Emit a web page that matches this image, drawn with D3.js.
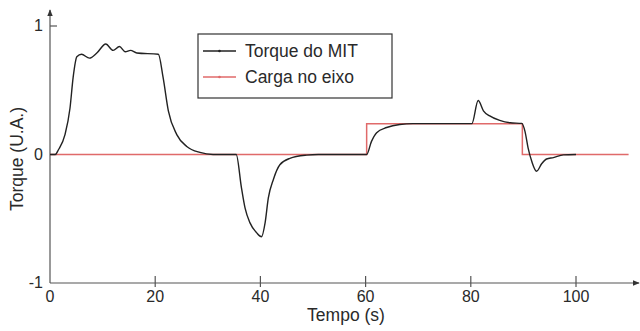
<!DOCTYPE html>
<html>
<head>
  <meta charset="utf-8">
  <style>
    body { margin: 0; background: #fff; }
    text { font-family: "Liberation Sans", Arial, sans-serif; fill: #2a2a2a; }
  </style>
</head>
<body>
  <script src="https://cdn.jsdelivr.net/npm/d3@7/dist/d3.min.js"></script>
  <script>
    // torque curve (tempo, torque)
    var torqueT = [0, 1, 1.6, 2.85, 3.8, 4.4, 5.1, 6.0, 7.5, 8.9, 10.6, 12.0, 13.2, 14.3, 15.3, 16.5, 20.6,
                   21.5, 22.5, 24.1, 26, 28.5, 31, 35.4, 36.4, 37.1, 38.0, 39.3, 40.2, 40.9, 41.5, 42.5,
                   43.7, 45.6, 48.8, 51, 60.2, 61.1, 62.1, 64, 66.5, 69, 80.2, 81.4, 82.4, 83.6, 85.5,
                   87.5, 89.7, 90.3, 90.9, 91.6, 92.5, 93.5, 94.4, 95.7, 97.6, 100];
    var torqueV = [0, 0, 0.037, 0.155, 0.36, 0.6, 0.76, 0.78, 0.75, 0.79, 0.86, 0.81, 0.84, 0.80, 0.81, 0.79, 0.78,
                   0.60, 0.34, 0.155, 0.063, 0.016, 0, 0, -0.26, -0.42, -0.53, -0.61, -0.64, -0.53, -0.34, -0.19,
                   -0.08, -0.03, -0.005, 0, 0, 0.10, 0.17, 0.21, 0.234, 0.24, 0.24, 0.42, 0.34, 0.30, 0.265,
                   0.247, 0.242, 0.18, 0.05, -0.055, -0.13, -0.07, -0.035, -0.024, -0.003, 0];

    // load on the shaft (step)
    var cargaT = [0, 60.2, 60.2, 89.8, 89.8, 110];
    var cargaV = [0, 0, 0.24, 0.24, 0, 0];

    var xTicks = [0, 20, 40, 60, 80, 100];
    var yTicks = [-1, 0, 1];
    var legendNames = ["Torque do MIT", "Carga no eixo"];
    var colors = ["#222222", "#e06a6a"];

    var width = 640, height = 331;

    var x = d3.scaleLinear().domain([0, 110]).range([50, 628.6]);
    var y = d3.scaleLinear().domain([-1, 1]).range([283, 26]);

    var svg = d3.select("body").append("svg")
      .attr("width", width)
      .attr("height", height);

    var axisColor = "#555";

    // arrow marker
    svg.append("defs").append("marker")
      .attr("id", "arrow")
      .attr("viewBox", "0 0 10 10")
      .attr("refX", 9).attr("refY", 5)
      .attr("markerWidth", 6).attr("markerHeight", 6)
      .attr("orient", "auto")
      .append("path").attr("d", "M0,1 L10,5 L0,9 Z").attr("fill", "#333");

    // x axis line + ticks
    svg.append("line")
      .attr("x1", x(0)).attr("x2", 639)
      .attr("y1", y(-1)).attr("y2", y(-1))
      .attr("stroke", axisColor).attr("stroke-width", 1.2)
      .attr("marker-end", "url(#arrow)");
    svg.selectAll(".xtick").data(xTicks.filter(function(d) { return d > 0; }))
      .enter().append("line")
      .attr("x1", function(d) { return x(d); }).attr("x2", function(d) { return x(d); })
      .attr("y1", y(-1) - 7).attr("y2", y(-1) + 4)
      .attr("stroke", axisColor).attr("stroke-width", 1.2);
    svg.selectAll(".xlab").data(xTicks)
      .enter().append("text")
      .attr("x", function(d) { return x(d); })
      .attr("y", 302)
      .attr("text-anchor", "middle")
      .attr("font-size", 16)
      .text(function(d) { return d; });

    // y axis line + ticks
    svg.append("line")
      .attr("x1", x(0)).attr("x2", x(0))
      .attr("y1", y(-1)).attr("y2", 10)
      .attr("stroke", axisColor).attr("stroke-width", 1.2)
      .attr("marker-end", "url(#arrow)");
    svg.selectAll(".ytick").data(yTicks.filter(function(d) { return d > -1; }))
      .enter().append("line")
      .attr("x1", x(0)).attr("x2", x(0) + 7)
      .attr("y1", function(d) { return y(d); }).attr("y2", function(d) { return y(d); })
      .attr("stroke", axisColor).attr("stroke-width", 1.2);
    svg.selectAll(".ylab").data(yTicks)
      .enter().append("text")
      .attr("x", x(0) - 7)
      .attr("y", function(d) { return y(d) + 5; })
      .attr("text-anchor", "end")
      .attr("font-size", 16)
      .text(function(d) { return d; });

    // axis titles
    svg.append("text")
      .attr("x", 346).attr("y", 321)
      .attr("text-anchor", "middle")
      .attr("font-size", 17.5)
      .text("Tempo (s)");
    svg.append("text")
      .attr("transform", "translate(23," + 159 + ") rotate(-90)")
      .attr("text-anchor", "middle")
      .attr("font-size", 17.5)
      .text("Torque (U.A.)");

    // curves
    var carga = cargaT.map(function(t, i) { return [t, cargaV[i]]; });
    var torque = torqueT.map(function(t, i) { return [t, torqueV[i]]; });

    var stepLine = d3.line()
      .x(function(d) { return x(d[0]); })
      .y(function(d) { return y(d[1]); });
    var smoothLine = d3.line()
      .curve(d3.curveMonotoneX)
      .x(function(d) { return x(d[0]); })
      .y(function(d) { return y(d[1]); });

    svg.append("path").datum(carga)
      .attr("d", stepLine)
      .attr("fill", "none")
      .attr("stroke", colors[1]).attr("stroke-width", 1.5);

    svg.append("path").datum(torque)
      .attr("d", smoothLine)
      .attr("fill", "none")
      .attr("stroke", colors[0]).attr("stroke-width", 1.4);

    // legend
    var leg = svg.append("g").attr("transform", "translate(198,34)");
    leg.append("rect")
      .attr("width", 194).attr("height", 64)
      .attr("fill", "#fff").attr("stroke", "#333").attr("stroke-width", 1.2);
    legendNames.forEach(function(name, i) {
      var ly = 17 + i * 26;
      leg.append("line")
        .attr("x1", 5).attr("x2", 38).attr("y1", ly).attr("y2", ly)
        .attr("stroke", colors[i]).attr("stroke-width", 1.3);
      leg.append("circle")
        .attr("cx", 21.5).attr("cy", ly).attr("r", 1.3)
        .attr("fill", colors[i]);
      leg.append("text")
        .attr("x", 47).attr("y", ly + 6)
        .attr("font-size", 17.5)
        .text(name);
    });
  </script>
</body>
</html>
